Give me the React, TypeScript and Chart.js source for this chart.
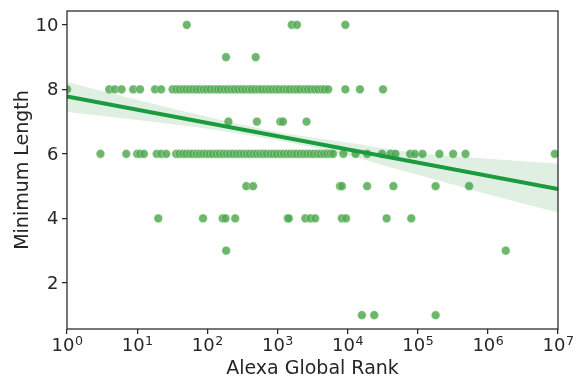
import React, { useEffect, useRef } from "react";
import { Chart, registerables } from "chart.js";

Chart.register(...registerables);

// Scatter data: Alexa rank (x) for each minimum-length row (y)
const len10Ranks = [51, 1600, 1900, 9300];
const len9Ranks = [185, 490];
const len8Ranks = [
  1, 4, 4.8, 6, 8.8, 11, 18, 22,
  32, 36, 40, 45, 50, 56, 63, 70, 78, 88, 98, 110, 125, 140, 155, 175, 195,
  220, 245, 275, 310, 345, 390, 430, 480, 540, 600, 680, 760, 850, 950, 1060,
  1200, 1350, 1500, 1700, 1900, 2100, 2400, 2700, 3000, 3400, 3800, 4300,
  4700, 5300, 9300, 15000, 32000,
];
const len7Ranks = [200, 510, 1100, 1200, 2600];
const len6Ranks = [
  3, 7, 10, 11, 12.5, 19, 22, 26,
  36, 40, 45, 50, 56, 62, 70, 78, 87, 97, 108, 120, 135, 150, 168, 188, 210,
  235, 262, 292, 325, 365, 405, 455, 505, 565, 630, 700, 790, 880, 980, 1100,
  1230, 1370, 1530, 1710, 1900, 2130, 2380, 2650, 2960, 3300, 3700, 4100,
  4600, 5100, 5700, 6200, 8700, 13000, 19000, 31000, 41000, 48000, 78000,
  91000, 117000, 204000, 320000, 480000, 9000000,
];
const len5Ranks = [360, 450, 7800, 8300, 19000, 45000, 180000, 540000];
const len4Ranks = [20, 87, 166, 182, 250, 1400, 1450, 2500, 2950, 3450, 8300, 9500, 36000, 81000];
const len3Ranks = [186, 1800000];
const len1Ranks = [16000, 24000, 180000];

// Regression fit (estimated) and confidence band
const fitX = [1, 10000000];
const fitY = [7.78, 4.91];
const bandX = [1, 10, 100, 1000, 10000, 100000, 1000000, 10000000];
const bandUpper = [8.23, 7.68, 7.15, 6.68, 6.35, 6.02, 5.85, 5.69];
const bandLower = [7.3, 7.05, 6.78, 6.42, 5.95, 5.35, 4.75, 4.18];

// Axis ticks and titles
const xTicks = [1, 10, 100, 1000, 10000, 100000, 1000000, 10000000];
const xTickExponents = ["0", "1", "2", "3", "4", "5", "6", "7"];
const yTicks = [2, 4, 6, 8, 10];
const xTitle = "Alexa Global Rank";
const yTitle = "Minimum Length";

const groups: [number, number[]][] = [
  [10, len10Ranks],
  [9, len9Ranks],
  [8, len8Ranks],
  [7, len7Ranks],
  [6, len6Ranks],
  [5, len5Ranks],
  [4, len4Ranks],
  [3, len3Ranks],
  [1, len1Ranks],
];

const INK = "#262626";
const FONT = "DejaVu Sans";

const labelPlugin = {
  id: "labels",
  afterDraw(chart: any) {
    const { ctx, chartArea: a } = chart;
    const xs = chart.scales.x;
    const ys = chart.scales.y;
    ctx.save();
    ctx.strokeStyle = INK;
    ctx.lineWidth = 1.25;
    ctx.strokeRect(a.left, a.top, a.right - a.left, a.bottom - a.top);
    ctx.fillStyle = INK;
    // x tick labels: 10 with superscript exponent
    xTicks.forEach((v, i) => {
      const px = xs.getPixelForValue(v);
      ctx.font = `18px "${FONT}"`;
      const wBase = ctx.measureText("10").width;
      ctx.font = `12.6px "${FONT}"`;
      const wSup = ctx.measureText(xTickExponents[i]).width;
      const left = px - (wBase + wSup) / 2;
      ctx.textAlign = "left";
      ctx.textBaseline = "alphabetic";
      ctx.font = `18px "${FONT}"`;
      ctx.fillText("10", left, a.bottom + 22);
      ctx.font = `12.6px "${FONT}"`;
      ctx.fillText(xTickExponents[i], left + wBase + 0.5, a.bottom + 16);
    });
    // y tick labels
    ctx.font = `18px "${FONT}"`;
    ctx.textAlign = "right";
    ctx.textBaseline = "middle";
    yTicks.forEach((v) => {
      ctx.fillText(String(v), a.left - 8.5, ys.getPixelForValue(v) + 1);
    });
    // titles
    ctx.font = `19px "${FONT}"`;
    ctx.textAlign = "center";
    ctx.textBaseline = "alphabetic";
    ctx.fillText(xTitle, (a.left + a.right) / 2, a.bottom + 45);
    ctx.translate(28, (a.top + a.bottom) / 2);
    ctx.rotate(-Math.PI / 2);
    ctx.fillText(yTitle, 0, 0);
    ctx.restore();
  },
};

export default function App() {
  const ref = useRef<HTMLCanvasElement | null>(null);
  useEffect(() => {
    document.body.style.margin = "0";
    const points: { x: number; y: number }[] = [];
    groups.forEach(([y, xs]) => xs.forEach((x) => points.push({ x, y })));
    const chart = new Chart(ref.current as HTMLCanvasElement, {
      type: "scatter",
      data: {
        datasets: [
          {
            label: "points",
            data: points,
            backgroundColor: "rgba(84,170,84,0.85)",
            borderColor: "rgba(255,255,255,0.55)",
            borderWidth: 0.6,
            pointRadius: 4.3,
            order: 3,
          } as any,
          {
            label: "upper",
            type: "line",
            data: bandX.map((x, i) => ({ x, y: bandUpper[i] })),
            borderWidth: 0,
            pointRadius: 0,
            backgroundColor: "rgba(26,140,40,0.14)",
            fill: "+1",
            cubicInterpolationMode: "monotone",
            order: 2,
          } as any,
          {
            label: "lower",
            type: "line",
            data: bandX.map((x, i) => ({ x, y: bandLower[i] })),
            borderWidth: 0,
            pointRadius: 0,
            fill: false,
            cubicInterpolationMode: "monotone",
            order: 2,
          } as any,
          {
            label: "fit",
            type: "line",
            data: fitX.map((x, i) => ({ x, y: fitY[i] })),
            borderColor: "#1b9a3e",
            borderWidth: 4,
            pointRadius: 0,
            fill: false,
            order: 1,
          } as any,
        ],
      },
      options: {
        responsive: false,
        animation: false,
        layout: { padding: { top: 11, right: 18, left: 0, bottom: 0 } },
        plugins: { legend: { display: false }, tooltip: { enabled: false } },
        scales: {
          x: {
            type: "logarithmic",
            min: 1,
            max: 10000000,
            afterBuildTicks: (s: any) => {
              s.ticks = xTicks.map((v) => ({ value: v }));
            },
            afterFit: (s: any) => {
              s.height = 48;
            },
            grid: {
              drawOnChartArea: false,
              drawTicks: true,
              tickLength: 5,
              color: INK,
              lineWidth: 1.25,
            },
            border: { display: false },
            ticks: { display: false, autoSkip: false },
          },
          y: {
            min: 0.57,
            max: 10.43,
            afterBuildTicks: (s: any) => {
              s.ticks = yTicks.map((v) => ({ value: v }));
            },
            afterFit: (s: any) => {
              s.width = 67;
            },
            grid: {
              drawOnChartArea: false,
              drawTicks: true,
              tickLength: 5,
              color: INK,
              lineWidth: 1.25,
            },
            border: { display: false },
            ticks: { display: false },
          },
        },
      } as any,
      plugins: [labelPlugin],
    });
    return () => chart.destroy();
  }, []);
  return (
    <div style={{ width: 576, height: 377 }}>
      <canvas ref={ref} width={576} height={377} style={{ width: 576, height: 377 }} />
    </div>
  );
}
